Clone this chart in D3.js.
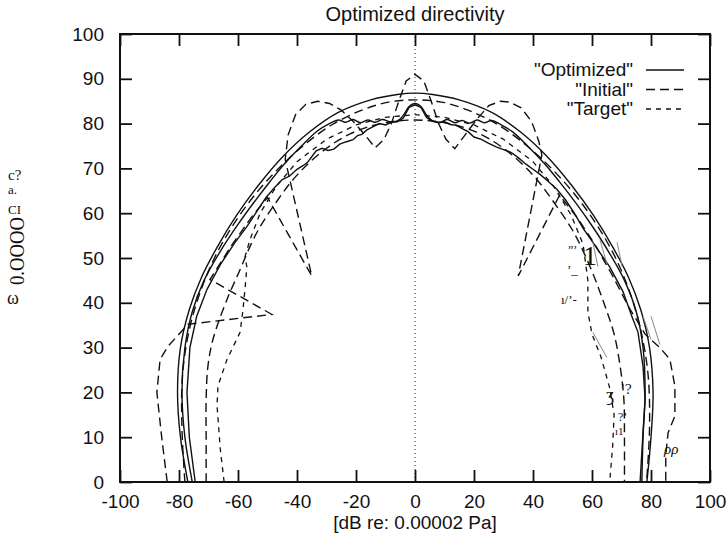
<!DOCTYPE html>
<html>
<head>
<meta charset="utf-8">
<script src="https://cdn.jsdelivr.net/npm/d3@7"></script>
<style>
  body { margin: 0; background: #fff; }
  text { font-family: "Liberation Sans", Arial, Helvetica, sans-serif; fill: #111; }
  .ocr text { font-family: "Liberation Serif", "DejaVu Serif", serif; fill: #111; }
</style>
</head>
<body>
<svg id="chart" width="726" height="538"></svg>
<script>

// tick values
var xTicks = [-100, -80, -60, -40, -20, 0, 20, 40, 60, 80, 100];
var yTicks = [0, 10, 20, 30, 40, 50, 60, 70, 80, 90, 100];

// series, [x dB, y dB], left to right
var optOuter = [[-77,0],[-79.5,10],[-80.5,20],[-79.5,30],[-76.5,38.5],[-72.5,45.5],[-67,52.5],[-60.5,59.5],[-53,66.3],[-45,72.5],[-36,78],[-26,82.5],[-15,85.3],[-6,86.5],[0,86.8],[6,86.5],[15,85.3],[26,82.5],[36,78],[45,72.5],[53,66.3],[60.5,59.5],[67,52.5],[72.5,45.5],[76.5,38.5],[79.5,30],[80.7,20],[80,10],[78.6,0]];

var optMid = [[-75.5,0],[-78,10],[-79,20],[-78,30],[-75.5,38],[-71.5,45],[-66,51.5],[-60,57.5],[-54.5,62.5],[-49,67.2],[-44,71.2],[-38.5,75],[-33,78.4],[-29,80],[-26,80.8],[-23.5,80.3],[-21,80.9],[-18.5,80.2],[-16,80.8],[-13.5,80.3],[-11,80.9],[-8.5,80.4],[-6,80.6],[-4,81.8],[-2,83.8],[0,84.5],[2,83.8],[4,81.8],[6,80.6],[8.5,80.3],[11,80.9],[13.5,80.2],[16,80.7],[18.5,80.1],[21,80.8],[23.5,80.2],[26,80.7],[29,79.8],[33,78.2],[38.5,74.8],[44,71],[49,67],[54.5,62.3],[60,57.2],[66,51],[71,45],[75,38],[77.3,30],[78,20],[77.3,10],[76.9,0]];

var optInner = [[-74.5,0],[-76.5,10],[-77.3,20],[-76.3,30],[-74,37],[-70.5,43],[-66,48.5],[-61,53.5],[-57,57],[-53.5,60.5],[-50.5,63.5],[-47.5,65.8],[-45,67.5],[-42.5,68.3],[-40,69.8],[-38,70.6],[-36.5,71.3],[-35,72.6],[-33.5,73.9],[-31.5,74.5],[-29.5,74],[-27.5,74.3],[-25.5,75.4],[-23.5,75.9],[-21,76.4],[-19.5,77.3],[-18,77.6],[-16.3,78.6],[-14,79.4],[-12,80],[-10,79.7],[-8,80.3],[-6,80.4],[-4,81.2],[-2,83.6],[0,84.2],[2,83.6],[4,81.3],[6,80.5],[8,80.2],[10,80.4],[12,79.8],[14,79.6],[16,78.9],[18,78.2],[20,77],[22.5,76.5],[25,75.6],[27.5,74.8],[30,74.2],[32.5,73.6],[35,72.4],[37.5,71],[40,69.8],[42.5,68.6],[45,67.2],[48,65.4],[51,63],[54,60],[57,56.6],[61,52.8],[66,48],[70.5,42.5],[73.5,37],[75.6,33.4],[77.3,25.8],[78,18.5],[77.3,11.1],[76.3,0]];

var iniSpiky = [[-84,0],[-85.8,9.6],[-87.5,20],[-86.4,27.4],[-83.7,30.3],[-77,35.2],[-48.5,37.4],[-69.5,45.2],[-62,53],[-55,59.5],[-50,63.5],[-35,46],[-44,72],[-43,77.5],[-40.5,82],[-37,84.3],[-33,85],[-29,84.5],[-25,83],[-21,80.5],[-17,77.5],[-13.5,74.6],[-10.5,76.5],[-8,80],[-5.5,85],[-3,89.5],[0,91],[3,89.5],[5.5,85],[8,80],[10.5,76.5],[13.5,74.4],[17,77.5],[21,81],[25,84],[29,85],[32,84.8],[36,83.5],[39.5,80.5],[42,76],[43,73],[35,46],[49,64],[55,59],[61,53],[67,46],[72.5,39],[78,33],[83,30],[86.4,27.4],[88.1,21.4],[88.1,14.7],[85.8,11],[85,6],[85,0]];

var iniArc = [[-78,0],[-79,12],[-78.8,24],[-76.5,34],[-73,42],[-68,50],[-62,57],[-55,63.5],[-47,69.5],[-38,75],[-28,79.8],[-18,83],[-9,84.8],[0,85.3],[9,84.8],[18,83],[28,79.8],[38,75],[47,69.5],[55,63.5],[62,57],[68,50],[73,42],[76.5,34],[79,24],[79.5,12],[78.5,0]];

var iniLow = [[-70.8,0],[-70.8,10],[-70.8,18.5],[-70.2,25.8],[-68.5,31.8],[-63.7,40.8],[-60.3,45.9],[-53.6,55.7],[-47,62.5],[-40,68.5],[-30,74.5],[-20,78.3],[-10,80.2],[0,80.8],[10,80.2],[20,78.3],[30,74.5],[40,68.5],[47,62.5],[54,55.5],[60,47],[64,40],[67.5,33],[69.5,26],[70.8,18.5],[71,10],[71,0]];

var target = [[-64.7,0],[-66,7.3],[-67.1,17],[-66.8,21.4],[-63.7,27.4],[-59.3,33.4],[-58.3,38.5],[-57.5,44],[-57,48],[-57.6,50.3],[-56,54],[-52.5,60],[-47,66],[-40,71.5],[-30,76.5],[-20,79.7],[-10,81.4],[0,82],[10,81.4],[20,79.7],[30,76.5],[40,71.5],[47,66],[53,59.5],[57,53],[58.6,45],[58.6,38],[60,33],[63,28],[66,21],[67.5,15],[67,8],[66,0]];

// faint broken strokes of the scan, right half
var scanStrokes = [[[60.3,53.5],[62,48.1]],[[62.7,54.1],[65.1,48.6]],[[68.5,53.5],[70.2,48.1]],[[77.3,37],[80,31.8]],[[80,37],[83,30.7]],[[60.3,33.4],[65,27.8]]];

var legendNames = ['"Optimized"', '"Initial"', '"Target"'];

var cfg = { left: 120, right: 710, top: 34, bottom: 482, tick: 12 };

var styles = {
    opt: { dash: null, width: 1.4 },
    ini: { dash: '9,5', width: 1.4 },
    tgt: { dash: '5,5', width: 1.3 }
};

var curves = [
    { pts: target, s: 'tgt', curve: d3.curveLinear },
    { pts: iniLow, s: 'ini', curve: d3.curveCatmullRom },
    { pts: iniArc, s: 'ini', curve: d3.curveCatmullRom },
    { pts: iniSpiky, s: 'ini', curve: d3.curveLinear },
    { pts: optInner, s: 'opt', curve: d3.curveLinear },
    { pts: optMid, s: 'opt', curve: d3.curveCatmullRom },
    { pts: optOuter, s: 'opt', curve: d3.curveCatmullRom }
];

var svg = d3.select('#chart');
svg.append('rect').attr('width', 726).attr('height', 538).attr('fill', '#fff');

var x = d3.scaleLinear().domain([-100, 100]).range([cfg.left, cfg.right]);
var y = d3.scaleLinear().domain([0, 100]).range([cfg.bottom, cfg.top]);

// title
svg.append('text')
    .attr('x', x(0)).attr('y', 21)
    .attr('text-anchor', 'middle')
    .style('font-size', '20px')
    .text('Optimized directivity');

// zero axis
svg.append('line')
    .attr('x1', x(0)).attr('x2', x(0))
    .attr('y1', y(0)).attr('y2', y(100))
    .attr('stroke', '#222').attr('stroke-width', 1)
    .attr('stroke-dasharray', '1,3');

// curves
var plot = svg.append('g').attr('fill', 'none').attr('stroke', '#111');

curves.forEach(function(c) {
    var line = d3.line()
        .x(function(d) { return x(d[0]); })
        .y(function(d) { return y(d[1]); })
        .curve(c.curve);
    plot.append('path')
        .attr('d', line(c.pts))
        .attr('stroke-width', styles[c.s].width)
        .attr('stroke-dasharray', styles[c.s].dash);
});

plot.selectAll('.scan')
    .data(scanStrokes)
    .enter()
    .append('line')
    .attr('class', 'scan')
    .attr('x1', function(d) { return x(d[0][0]); })
    .attr('y1', function(d) { return y(d[0][1]); })
    .attr('x2', function(d) { return x(d[1][0]); })
    .attr('y2', function(d) { return y(d[1][1]); })
    .attr('stroke', '#888')
    .attr('stroke-width', 1);

// axes, ticks pointing inward
var plain = function(d) { return String(d); };

function styleAxis(g) {
    g.select('.domain').remove();
    g.selectAll('.tick line').attr('stroke', '#111').attr('stroke-width', 1.8);
    g.selectAll('.tick text').style('font-size', '19px').attr('fill', '#111');
}

svg.append('g')
    .attr('transform', 'translate(0,' + cfg.bottom + ')')
    .call(d3.axisBottom(x).tickValues(xTicks).tickFormat(plain).tickSizeInner(-cfg.tick).tickSizeOuter(0).tickPadding(13))
    .call(styleAxis);

svg.append('g')
    .attr('transform', 'translate(0,' + cfg.top + ')')
    .call(d3.axisTop(x).tickValues(xTicks).tickSizeInner(-cfg.tick).tickSizeOuter(0).tickFormat(''))
    .call(styleAxis);

svg.append('g')
    .attr('transform', 'translate(' + cfg.left + ',0)')
    .call(d3.axisLeft(y).tickValues(yTicks).tickFormat(plain).tickSizeInner(-cfg.tick).tickSizeOuter(0).tickPadding(16))
    .call(styleAxis);

svg.append('g')
    .attr('transform', 'translate(' + cfg.right + ',0)')
    .call(d3.axisRight(y).tickValues(yTicks).tickSizeInner(-cfg.tick).tickSizeOuter(0).tickFormat(''))
    .call(styleAxis);

svg.append('rect')
    .attr('x', cfg.left).attr('y', cfg.top)
    .attr('width', cfg.right - cfg.left).attr('height', cfg.bottom - cfg.top)
    .attr('fill', 'none').attr('stroke', '#111').attr('stroke-width', 2);

svg.append('text')
    .attr('x', x(0)).attr('y', 529)
    .attr('text-anchor', 'middle')
    .style('font-size', '19px')
    .text('[dB re: 0.00002 Pa]');

// legend
var legend = svg.append('g').attr('class', 'legend');
var lstyles = ['opt', 'ini', 'tgt'];
legendNames.forEach(function(name, i) {
    var yy = 76 + i * 19.5;
    legend.append('text')
        .attr('x', 633).attr('y', yy)
        .attr('text-anchor', 'end')
        .style('font-size', '19px')
        .text(name);
    legend.append('line')
        .attr('x1', 646).attr('x2', 684)
        .attr('y1', yy - 6).attr('y2', yy - 6)
        .attr('stroke', '#111')
        .attr('stroke-width', styles[lstyles[i]].width)
        .attr('stroke-dasharray', styles[lstyles[i]].dash);
});

// stray characters left behind by the scan
var ocr = svg.append('g').attr('class', 'ocr');
ocr.append('text').attr('x', 8).attr('y', 180).style('font-size', '15px').text('c?');
ocr.append('text').attr('x', 8).attr('y', 194).style('font-size', '13px').text('a.');
ocr.append('text').attr('x', 8).attr('y', 214).style('font-size', '13px').text('CI');
ocr.append('text')
    .attr('transform', 'translate(24,285) rotate(-90)')
    .attr('textLength', 68).attr('lengthAdjust', 'spacingAndGlyphs')
    .style('font-size', '20px').text('0.OOOO');
ocr.append('text').attr('x', 7).attr('y', 304).style('font-size', '18px').text('ω');

ocr.append('text').attr('x', 568).attr('y', 254).style('font-size', '12px').text('”ʼ');
ocr.append('text').attr('x', 583).attr('y', 265).style('font-size', '28px').text('1');
ocr.append('text').attr('x', 567).attr('y', 274).style('font-size', '13px').text('ʼ_');
ocr.append('text').attr('x', 561).attr('y', 304).style('font-size', '13px').text('ı/ʼ-');
ocr.append('text').attr('x', 606).attr('y', 401).style('font-size', '18px').text('ʒ');
ocr.append('text').attr('x', 620).attr('y', 394).style('font-size', '15px').text('ʼ?');
ocr.append('text').attr('x', 618).attr('y', 421).style('font-size', '12px').text('?ʼ');
ocr.append('text').attr('x', 615).attr('y', 435).style('font-size', '11px').text('ı1');
ocr.append('text').attr('x', 664).attr('y', 454).style('font-size', '15px').style('font-style', 'italic').text('ρρ');

</script>
</body>
</html>
